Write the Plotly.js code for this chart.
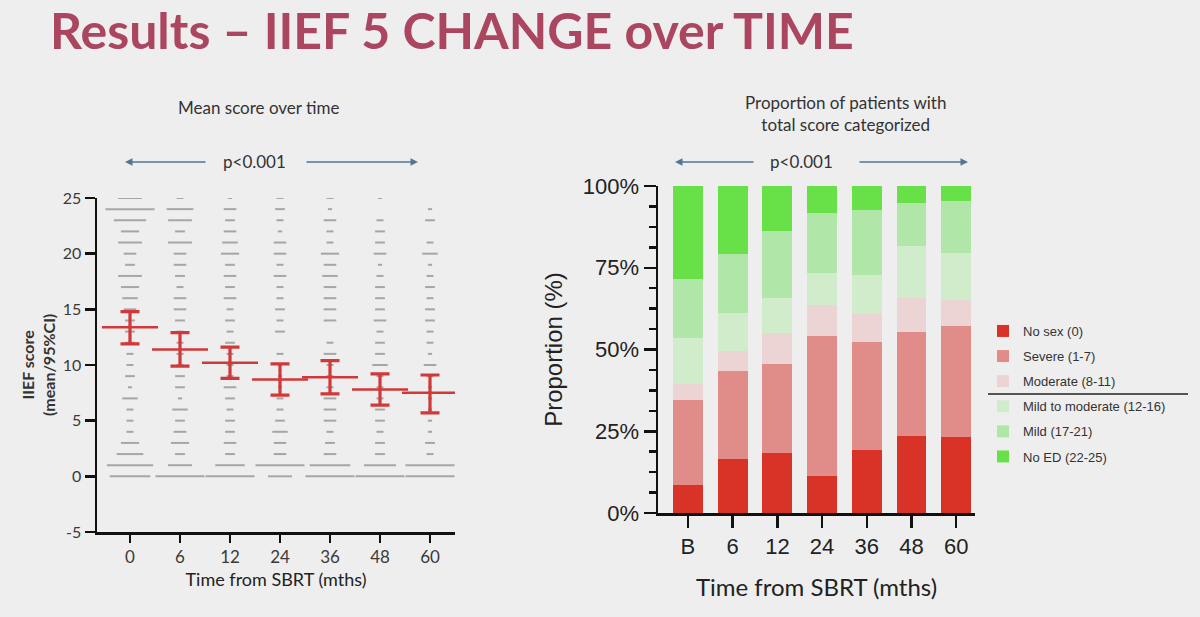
<!DOCTYPE html>
<html>
<head>
<meta charset="utf-8">
<script src="https://cdn.plot.ly/plotly-3.0.1.min.js"></script>
<style>
  html, body { margin: 0; padding: 0; background: #eeeeee; }
  #chart { width: 1200px; height: 617px; }
</style>
</head>
<body>
<div id="chart"></div>
<script>
// ---- Left panel: IIEF-5 scores per follow-up visit ----
const timeLabels = ['0', '6', '12', '24', '36', '48', '60'];
const scoreLevels = [0, 1, 2, 3, 4, 5, 6, 7, 8, 9, 10, 11, 12, 13, 14, 15, 16, 17, 18, 19, 20, 21, 22, 23, 24, 25];
const scoreTicks = [-5, 0, 5, 10, 15, 20, 25];
const scoreTickText = ['-5', '0', '5', '10', '15', '20', '25'];

// number of patients at each score (index = score 0..25)
const patientsAt0  = [14, 16, 9, 6, 2, 2, 2, 5, 1, 3, 2, 2, 3, 3, 3, 4, 5, 6, 8, 3, 4, 8, 6, 11, 17, 8];
const patientsAt6  = [17, 8, 3, 6, 4, 3, 5, 1, 3, 3, 2, 2, 2, 2, 3, 4, 4, 2, 3, 4, 4, 8, 3, 8, 9, 2];
const patientsAt12 = [17, 10, 3, 4, 3, 3, 2, 3, 4, 2, 2, 2, 3, 2, 3, 2, 4, 3, 4, 3, 6, 5, 4, 3, 4, 1];
const patientsAt24 = [8, 17, 4, 4, 5, 3, 2, 2, 1, 1, 1, 2, 0, 3, 2, 3, 2, 2, 4, 2, 4, 4, 1, 2, 3, 2];
const patientsAt36 = [17, 14, 4, 3, 2, 4, 4, 4, 2, 2, 2, 4, 2, 0, 4, 4, 4, 4, 5, 4, 6, 2, 2, 4, 1, 2];
const patientsAt48 = [17, 11, 3, 3, 2, 3, 3, 2, 2, 2, 5, 3, 3, 2, 4, 3, 3, 3, 2, 1, 4, 3, 3, 2, 0, 1];
const patientsAt60 = [17, 17, 2, 3, 1, 1, 1, 1, 1, 2, 4, 1, 2, 2, 3, 3, 2, 3, 2, 1, 5, 2, 0, 3, 1, 0];

const meanScore = [13.4, 11.4, 10.2, 8.7, 8.9, 7.8, 7.5];
const ciUpper   = [14.8, 12.9, 11.6, 10.1, 10.4, 9.2, 9.1];
const ciLower   = [11.9, 9.9, 8.8, 7.3, 7.4, 6.4, 5.7];

// ---- Right panel: share of patients per IIEF-5 category ----
const visitLabels  = ['B', '6', '12', '24', '36', '48', '60'];
const noSex        = [8.7, 16.6, 18.3, 11.2, 19.4, 23.5, 23.3];
const severe       = [26.0, 26.8, 27.4, 42.9, 32.9, 31.9, 33.8];
const moderate     = [4.9, 6.1, 9.4, 9.5, 8.5, 10.4, 8.0];
const mildModerate = [14.0, 11.8, 10.7, 9.9, 12.0, 15.8, 14.5];
const mild         = [18.1, 17.8, 20.5, 18.3, 19.8, 13.1, 15.8];
const noED         = [28.3, 20.9, 13.7, 8.2, 7.4, 5.3, 4.6];
const pctTicks     = [0, 25, 50, 75, 100];
const pctTickText  = ['0%', '25%', '50%', '75%', '100%'];

// ---- build the stacked-dash scatter ----
const countsByVisit = [patientsAt0, patientsAt6, patientsAt12, patientsAt24, patientsAt36, patientsAt48, patientsAt60];
const dashX = [], dashY = [], dashSize = [];
countsByVisit.forEach((counts, i) => {
  counts.forEach((n, k) => {
    if (n > 0) {
      dashX.push(timeLabels[i]);
      dashY.push(scoreLevels[k]);
      dashSize.push(1 + 2 * n);
    }
  });
});

const RED = '#d0383a';
const traces = [
  {
    type: 'scatter', mode: 'markers', x: dashX, y: dashY,
    xaxis: 'x', yaxis: 'y', showlegend: false, hoverinfo: 'skip',
    marker: { symbol: 'line-ew', size: dashSize, color: '#888888',
              line: { color: '#888888', width: 2 } }
  },
  {
    type: 'scatter', mode: 'markers', x: timeLabels, y: meanScore,
    xaxis: 'x', yaxis: 'y', showlegend: false,
    marker: { symbol: 'line-ew', size: 40, color: RED, line: { color: RED, width: 2.5 } },
    error_y: {
      type: 'data', symmetric: false,
      array: meanScore.map((m, i) => ciUpper[i] - m),
      arrayminus: meanScore.map((m, i) => m - ciLower[i]),
      color: RED, thickness: 3.2, width: 9.5
    }
  }
];

const categories = [
  { name: 'No sex (0)',               y: noSex,        color: '#d93226' },
  { name: 'Severe (1-7)',             y: severe,       color: '#e08c88' },
  { name: 'Moderate (8-11)',          y: moderate,     color: '#ecd4d4' },
  { name: 'Mild to moderate (12-16)', y: mildModerate, color: '#d0eccb' },
  { name: 'Mild (17-21)',             y: mild,         color: '#b0e6a8' },
  { name: 'No ED (22-25)',            y: noED,         color: '#68e148' }
];
categories.forEach((c, i) => {
  traces.push({
    type: 'bar', x: visitLabels, y: c.y, name: c.name,
    xaxis: 'x2', yaxis: 'y2', legendgroup: 'g' + i,
    marker: { color: c.color, line: { width: 0 } }
  });
});

const axisFont = { family: 'Lato, sans-serif', size: 16, color: '#3a3a3a' };
const armFont  = { family: 'Liberation Sans, Arial, sans-serif', size: 22, color: '#222' };
const arrowCol = '#4f7898';

function arrow(xHead, y, dx) {
  return { xref: 'paper', yref: 'paper', x: xHead / 1200, y: 1 - y / 617,
           ax: dx, ay: 0, text: '', showarrow: true,
           arrowhead: 2, arrowsize: 1, arrowwidth: 1.5, arrowcolor: arrowCol };
}
function label(text, x, y, font, extra) {
  return Object.assign({ xref: 'paper', yref: 'paper', x: x / 1200, y: 1 - y / 617,
           text: text, showarrow: false, font: font, xanchor: 'center', yanchor: 'middle' }, extra || {});
}

const layout = {
  width: 1200, height: 617,
  margin: { l: 0, r: 0, t: 0, b: 0 },
  paper_bgcolor: '#eeeeee', plot_bgcolor: '#eeeeee',
  barmode: 'stack', bargap: 0.33,
  showlegend: true,
  legend: {
    x: 983 / 1200, y: 1 - 316 / 617, xanchor: 'left', yanchor: 'top',
    traceorder: 'grouped', tracegroupgap: 5.2, bgcolor: 'rgba(0,0,0,0)',
    font: { family: 'Liberation Sans, Arial, sans-serif', size: 13, color: '#333' }
  },
  xaxis: {
    domain: [97 / 1200, 455 / 1200], anchor: 'y', type: 'category',
    range: [-0.66, 6.5], showline: true, linecolor: '#111', linewidth: 2.5,
    ticks: 'outside', ticklen: 8, tickwidth: 2.5, tickcolor: '#111',
    showgrid: false, zeroline: false,
    tickfont: { family: 'Lato, sans-serif', size: 17, color: '#3a3a3a' },
    title: { text: 'Time from SBRT (mths)', standoff: 8,
             font: { family: 'Lato, sans-serif', size: 18, color: '#222' } }
  },
  yaxis: {
    domain: [1 - 532 / 617, 1 - 198 / 617], anchor: 'x',
    range: [-5, 25], tickvals: scoreTicks, ticktext: scoreTickText,
    showline: true, linecolor: '#111', linewidth: 2.5,
    ticks: 'outside', ticklen: 10, tickwidth: 2.5, tickcolor: '#111',
    showgrid: false, zeroline: false, tickfont: axisFont
  },
  xaxis2: {
    domain: [658 / 1200, 975 / 1200], anchor: 'y2', type: 'category',
    range: [-0.67, 6.42], showline: true, linecolor: '#111', linewidth: 2.5,
    ticks: 'outside', ticklen: 12, tickwidth: 2.5, tickcolor: '#111',
    showgrid: false, zeroline: false, tickfont: armFont,
    title: { text: 'Time from SBRT (mths)', standoff: 22,
             font: { family: 'Lato, sans-serif', size: 24, color: '#222' } }
  },
  yaxis2: {
    domain: [1 - 513 / 617, 1 - 186 / 617], anchor: 'x2',
    range: [0, 100], tickvals: pctTicks, ticktext: pctTickText,
    showline: true, linecolor: '#111', linewidth: 2.5,
    ticks: 'outside', ticklen: 12, tickwidth: 2.5, tickcolor: '#111',
    minor: { dtick: 6.25, ticks: 'outside', ticklen: 7, tickwidth: 2.5, tickcolor: '#111' },
    showgrid: false, zeroline: false, tickfont: armFont,
    title: { text: 'Proportion (%)', standoff: 14,
             font: { family: 'Liberation Sans, Arial, sans-serif', size: 24, color: '#222' } }
  },
  shapes: [
    { type: 'line', xref: 'paper', yref: 'paper',
      x0: 988 / 1200, x1: 1188 / 1200, y0: 1 - 394 / 617, y1: 1 - 394 / 617,
      line: { color: '#222', width: 1.5 } }
  ],
  annotations: [
    label('Results – IIEF 5 CHANGE over TIME', 48, 30,
          { family: 'Lato, sans-serif', size: 50, color: '#ac4660', weight: 700 }, { xanchor: 'left' }),
    label('Mean score over time', 258, 108, { family: 'Lato, sans-serif', size: 17, color: '#333' }),
    label('Proportion of patients with<br>total score categorized', 845, 114,
          { family: 'Lato, sans-serif', size: 17, color: '#333' }),
    label('p<0.001', 254, 162, { family: 'Lato, sans-serif', size: 17, color: '#333' }),
    label('p<0.001', 801, 162, { family: 'Lato, sans-serif', size: 17, color: '#333' }),
    label('IIEF score<br>(mean/95%CI)', 38, 365,
          { family: 'Lato, sans-serif', size: 16, color: '#333', weight: 700 }, { textangle: -90 }),
    arrow(125, 162, 82),
    arrow(418, 162, -113),
    arrow(675, 162, 80),
    arrow(968, 162, -110)
  ]
};

Plotly.newPlot('chart', traces, layout, { displayModeBar: false, staticPlot: true });
</script>
</body>
</html>
